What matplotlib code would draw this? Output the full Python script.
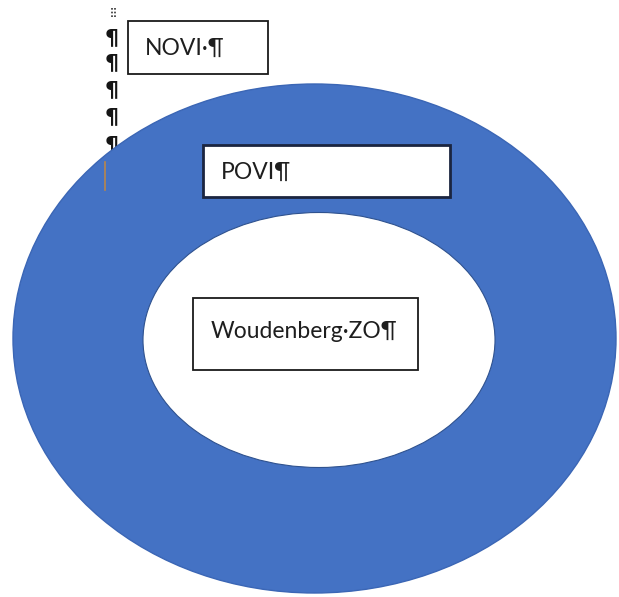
import matplotlib
matplotlib.use("Agg")
import matplotlib.pyplot as plt
from matplotlib.patches import Ellipse, Rectangle

# Diagram content (pixel coordinates of the 619x597 canvas)
labels = ["NOVI·¶", "POVI¶", "Woudenberg·ZO¶"]
box_x = [128, 203, 193]
box_y = [21, 145, 298]
box_w = [140, 247, 225]
box_h = [53, 52, 72]
box_edge = ["#1a1a1a", "#1b2540", "#1a1a1a"]
box_lw = [1.3, 2.0, 1.3]
text_x = [145, 221, 211]
text_y = [48, 172, 331]

outer_center = (314.5, 338.5)
outer_size = (603, 509)
inner_center = (319, 340)
inner_size = (352, 255)

pilcrow_y = [38, 63, 90, 117, 145]

fig = plt.figure(figsize=(6.19, 5.97), dpi=100)
ax = fig.add_axes([0, 0, 1, 1])
ax.set_xlim(0, 619)
ax.set_ylim(597, 0)
ax.axis("off")

# paragraph marks in margin (behind the ellipse)
for y in pilcrow_y:
    ax.text(112, y, "¶", fontsize=16, fontweight="bold", color="#151515",
            ha="center", va="center", family="DejaVu Sans", zorder=1)
# dotted marker above
ax.plot([112, 112], [8, 18], color="#333333", lw=1.2, ls=(0, (1, 1.2)), zorder=1)
ax.plot([115, 115], [8, 18], color="#333333", lw=1.2, ls=(0, (1, 1.2)), zorder=1)

ax.add_patch(Ellipse(outer_center, outer_size[0], outer_size[1],
                     facecolor="#4472C4", edgecolor="#3B66B5", lw=1, zorder=2))
ax.add_patch(Ellipse(inner_center, inner_size[0], inner_size[1],
                     facecolor="white", edgecolor="#2F528F", lw=0.8, zorder=3))

# small cursor line
ax.plot([105, 105], [162, 190], color="#B8864B", lw=1.2, zorder=4)

for lab, x, y, w, h, ec, lw, tx, ty in zip(labels, box_x, box_y, box_w, box_h,
                                          box_edge, box_lw, text_x, text_y):
    ax.add_patch(Rectangle((x, y), w, h, facecolor="white", edgecolor=ec,
                           lw=lw, zorder=5))
    ax.text(tx, ty, lab, fontsize=16.5, color="#1e1e1e", ha="left", va="center",
            family=["Lato", "DejaVu Sans"], zorder=6)

fig.savefig("out.png", dpi=100)
